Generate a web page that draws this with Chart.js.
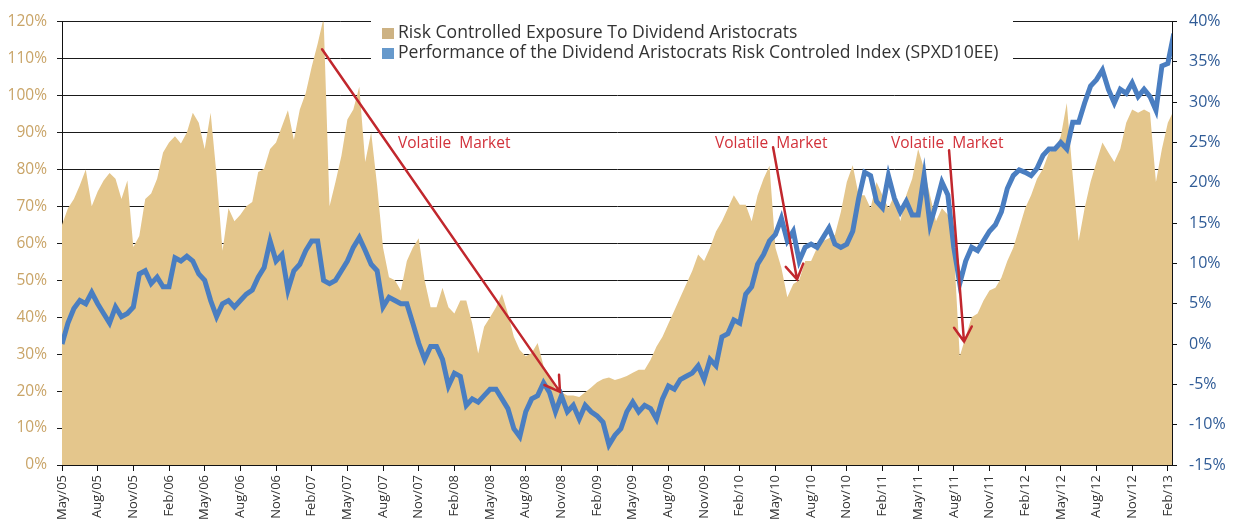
<!DOCTYPE html>
<html>
<head>
<meta charset="utf-8">
<title>Dividend Aristocrats Risk Control</title>
<script src="https://cdn.jsdelivr.net/npm/chart.js@4.4.0/dist/chart.umd.min.js"></script>
<style>
  html, body { margin: 0; padding: 0; background: #fff; }
  #wrap { width: 1233px; height: 521px; }
</style>
</head>
<body>
<div id="wrap"><canvas id="exposure-chart" width="1233" height="521"></canvas></div>
<script>
// months since May/05, one point every half month
const monthStep = 0.5;

// quarterly tick labels
const tickLabels = [
  'May/05','Aug/05','Nov/05','Feb/06','May/06','Aug/06','Nov/06','Feb/07',
  'May/07','Aug/07','Nov/07','Feb/08','May/08','Aug/08','Nov/08','Feb/09',
  'May/09','Aug/09','Nov/09','Feb/10','May/10','Aug/10','Nov/10','Feb/11',
  'May/11','Aug/11','Nov/11','Feb/12','May/12','Aug/12','Nov/12','Feb/13'
];

// Risk Controlled Exposure (left axis, %)
const exposure = [
  65, 69.5, 72, 75.7, 80, 70, 74, 77, 79, 77.5, 72, 77,
  59, 62, 72, 73.5, 77.5, 84.6, 87.3, 89, 87, 90, 95.3, 92.6,
  85.5, 95.3, 78.4, 58, 69.5, 66, 67.7, 70, 71.2, 79.3, 80.2, 85.5,
  87.3, 91.7, 96, 88, 96.2, 100.7, 107.8, 114, 121, 70, 76.6, 83.7,
  93.5, 96.2, 102.4, 82, 90, 75.7, 58.8, 50.8, 50, 47.2, 55.2, 58.8,
  61.4, 49.9, 42.7, 42.7, 48, 42.7, 41, 44.5, 44.5, 38.3, 30.2, 37.4,
  40, 42.7, 46.3, 41, 34.7, 31.1, 29.4, 30.3, 33, 26.8, 24.1, 20.6,
  19.7, 18.8, 18.8, 18.4, 19.7, 21, 22.4, 23.3, 23.7, 23, 23.5, 24.1,
  25, 25.8, 25.8, 28.5, 32.1, 34.7, 38.3, 41.8, 45.4, 49, 52.5, 57,
  55.2, 58.8, 63.2, 66, 69.5, 73, 70.4, 70.4, 66, 73, 77.5, 81,
  58.8, 53.4, 45.4, 49, 50, 55.2, 55.2, 58.8, 60.6, 61.4, 62.3, 68.5,
  76.6, 81.1, 73, 73, 69.5, 76.6, 73, 69.5, 73, 66, 73, 77.5,
  85.5, 80.2, 73, 66, 69.5, 67.7, 58.8, 29.4, 34.7, 40, 41, 44.5,
  47.2, 48, 50.7, 55.2, 58.8, 64.1, 69.5, 73, 77.5, 80.2, 84.6, 85.5,
  89, 98, 78.4, 60.6, 69.5, 76.6, 82, 87.3, 84.6, 82, 85.5, 92.6,
  96.2, 95.3, 96.2, 95.3, 76.6, 85.5, 92.6, 96
];

// Index performance (right axis, %)
const performance = [
  0, 2.6, 4.4, 5.4, 5.0, 6.4, 5.0, 3.8, 2.6, 4.6, 3.4, 3.8,
  4.6, 8.7, 9.1, 7.5, 8.3, 7.1, 7.1, 10.7, 10.3, 10.9, 10.3, 8.7,
  7.9, 5.4, 3.4, 5.0, 5.4, 4.6, 5.4, 6.2, 6.7, 8.3, 9.5, 12.8,
  10.3, 11.1, 6.7, 9.1, 9.9, 11.6, 12.8, 12.8, 7.9, 7.5, 7.9, 9.1,
  10.3, 12.0, 13.2, 11.6, 9.9, 9.1, 4.6, 5.8, 5.4, 5.0, 5.0, 2.6,
  0.1, -1.9, -0.3, -0.3, -1.9, -5.2, -3.6, -4.0, -7.6, -6.8, -7.2, -6.4,
  -5.6, -5.6, -6.8, -8.0, -10.5, -11.5, -8.4, -6.8, -6.4, -4.8, -6.0, -8.4,
  -6.4, -8.4, -7.6, -9.3, -7.6, -8.4, -8.9, -9.7, -12.5, -11.3, -10.5, -8.4,
  -7.2, -8.4, -7.6, -8.0, -9.3, -6.8, -5.2, -5.6, -4.4, -4.0, -3.6, -2.7,
  -4.4, -1.9, -2.7, 0.9, 1.3, 3.0, 2.6, 6.2, 7.1, 9.9, 11.1, 12.8,
  13.6, 15.6, 12.8, 14.0, 10.3, 12.0, 12.4, 12.0, 13.2, 14.4, 12.4, 12.0,
  12.4, 14.0, 18.1, 21.3, 20.9, 17.7, 16.9, 20.9, 18.1, 16.4, 17.7, 16.0,
  16.0, 20.9, 14.8, 17.3, 20.1, 18.5, 12.0, 7.5, 10.3, 12.0, 11.6, 12.8,
  14.0, 14.8, 16.4, 19.3, 20.9, 21.6, 21.3, 20.9, 21.8, 23.4, 24.2, 24.2,
  25.0, 24.2, 27.5, 27.5, 29.9, 32.0, 32.8, 34.0, 31.6, 29.9, 31.6, 31.1,
  32.4, 30.7, 31.6, 30.7, 29.0, 34.5, 34.8, 38.5
];

// annotations, in (month, left axis %)
const noteText = 'Volatile  Market';
const noteAt = [[28.26, 87.1], [54.92, 87.1], [69.72, 87.1]];
const arrowFrom = [[21.87, 112.5], [59.8, 86.0], [74.6, 85.2]];
const arrowTo = [[41.88, 19.8], [61.82, 50.2], [75.86, 33.4]];

const FONT = "'Open Sans', 'DejaVu Sans', sans-serif";

function toPoints(values) {
  return values.map((v, i) => ({ x: i * monthStep, y: v }));
}

// white legend box with the two series
const boxLegend = {
  id: 'boxLegend',
  afterDatasetsDraw(chart) {
    const ctx = chart.ctx;
    ctx.save();
    ctx.fillStyle = '#fff';
    ctx.fillRect(371, 19, 642, 48);
    ctx.fillStyle = '#CDB283';
    ctx.fillRect(382, 28, 12, 11);
    ctx.fillStyle = '#6699CC';
    ctx.fillRect(382, 48, 12, 11);
    ctx.fillStyle = '#333';
    ctx.font = '17.6px ' + FONT;
    ctx.textBaseline = 'middle';
    ctx.fillText('Risk Controlled Exposure To Dividend Aristocrats', 398, 33);
    ctx.fillText('Performance of the Dividend Aristocrats Risk Controled Index (SPXD10EE)', 398, 53);
    ctx.restore();
  }
};

// red arrows and notes
const volatileNotes = {
  id: 'volatileNotes',
  afterDatasetsDraw(chart) {
    const ctx = chart.ctx;
    const sx = chart.scales.x, sy = chart.scales.y;
    ctx.save();
    ctx.strokeStyle = '#C1272D';
    ctx.lineWidth = 2.5;
    ctx.lineCap = 'round';
    arrowFrom.forEach((from, i) => {
      const x0 = sx.getPixelForValue(from[0]), y0 = sy.getPixelForValue(from[1]);
      const x1 = sx.getPixelForValue(arrowTo[i][0]), y1 = sy.getPixelForValue(arrowTo[i][1]);
      const ang = Math.atan2(y0 - y1, x0 - x1);
      ctx.beginPath();
      ctx.moveTo(x0, y0);
      ctx.lineTo(x1, y1);
      ctx.moveTo(x1 + 17 * Math.cos(ang - 0.55), y1 + 17 * Math.sin(ang - 0.55));
      ctx.lineTo(x1, y1);
      ctx.lineTo(x1 + 17 * Math.cos(ang + 0.55), y1 + 17 * Math.sin(ang + 0.55));
      ctx.stroke();
    });
    ctx.fillStyle = '#D2313A';
    ctx.font = '15.5px ' + FONT;
    ctx.textBaseline = 'middle';
    noteAt.forEach(p => {
      ctx.fillText(noteText, sx.getPixelForValue(p[0]), sy.getPixelForValue(p[1]));
    });
    ctx.restore();
  }
};

new Chart(document.getElementById('exposure-chart'), {
  type: 'line',
  data: {
    datasets: [
      {
        label: 'Performance of the Dividend Aristocrats Risk Controled Index (SPXD10EE)',
        data: toPoints(performance),
        yAxisID: 'y1',
        borderColor: '#4A7EC1',
        borderWidth: 5,
        pointRadius: 0,
        tension: 0,
        fill: false,
        order: 1,
      },
      {
        label: 'Risk Controlled Exposure To Dividend Aristocrats',
        data: toPoints(exposure),
        yAxisID: 'y',
        borderWidth: 0,
        borderColor: 'rgba(0,0,0,0)',
        backgroundColor: '#E4C68C',
        pointRadius: 0,
        tension: 0,
        fill: 'origin',
        order: 2,
        clip: { left: 0, top: 10, right: 0, bottom: 0 },
      },
    ],
  },
  options: {
    responsive: false,
    animation: false,
    layout: { padding: { top: 16, left: 0, right: 0, bottom: 0 } },
    plugins: {
      legend: { display: false },
      tooltip: { enabled: false },
    },
    scales: {
      x: {
        type: 'linear',
        min: 0,
        max: 93.35,
        afterBuildTicks: (scale) => {
          scale.ticks = tickLabels.map((l, i) => ({ value: i * 3 }));
        },
        afterFit: (scale) => { scale.height = 56; },
        grid: { drawOnChartArea: false, color: '#111', tickLength: 6 },
        border: { color: '#111', width: 1 },
        ticks: {
          autoSkip: false,
          maxRotation: 90,
          minRotation: 90,
          padding: 4,
          color: '#333',
          font: { family: FONT, size: 13 },
          callback: (v) => tickLabels[Math.round(v / 3)],
        },
      },
      y: {
        position: 'left',
        min: 0,
        max: 120,
        afterFit: (scale) => { scale.width = 62; },
        grid: { color: '#1a1a1a', tickLength: 5 },
        border: { color: '#111', width: 1 },
        ticks: {
          stepSize: 5,
          padding: 10,
          color: '#C9A467',
          font: { family: FONT, size: 15.5 },
          callback: (v) => v + '%',
        },
      },
      y1: {
        position: 'right',
        min: -15,
        max: 40,
        afterFit: (scale) => { scale.width = 61; },
        grid: { drawOnChartArea: false, color: '#111', tickLength: 5 },
        border: { color: '#111', width: 1 },
        ticks: {
          stepSize: 5,
          padding: 12,
          color: '#2F5B96',
          font: { family: FONT, size: 16 },
          callback: (v) => v + '%',
        },
      },
    },
  },
  plugins: [boxLegend, volatileNotes],
});
</script>
</body>
</html>
